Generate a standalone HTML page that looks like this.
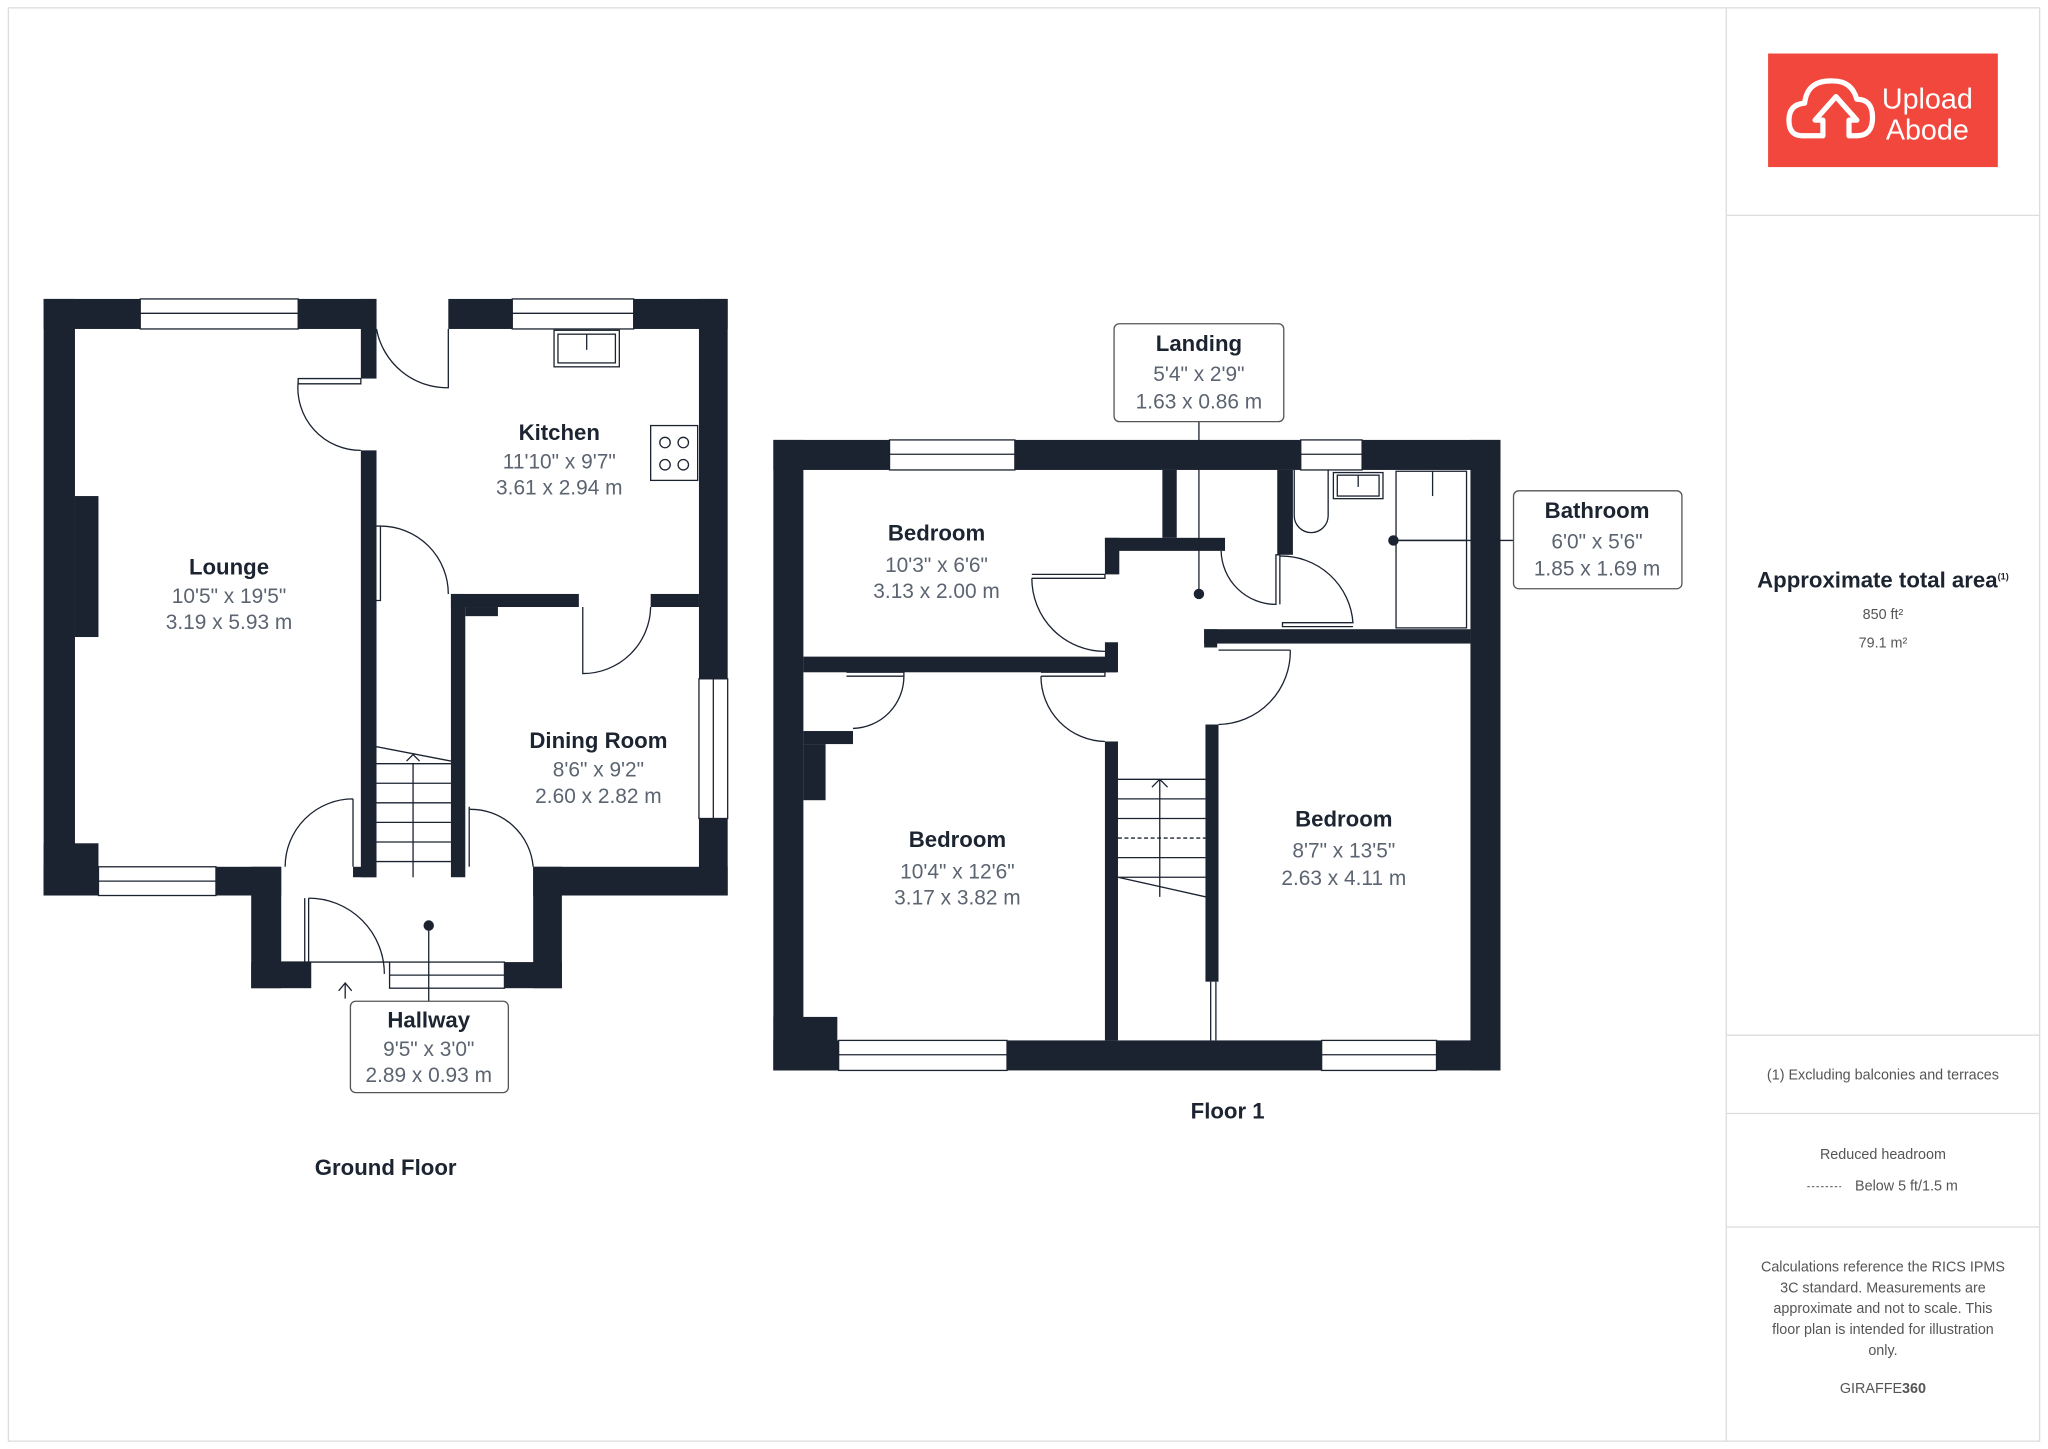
<!DOCTYPE html>
<html><head><meta charset="utf-8"><style>
html,body{margin:0;padding:0;background:#fff;width:2048px;height:1449px;overflow:hidden}
svg{display:block}
text{font-family:"Liberation Sans",sans-serif}
.t{font-weight:bold;fill:#1c2431;font-size:17px;text-anchor:middle}
.d{fill:#5b6470;font-size:16px;text-anchor:middle}
.s{fill:#555;font-size:11px;text-anchor:middle}
.w{fill:#1b2330}
.ln{fill:none;stroke:#1b2330;stroke-width:1}
.win{fill:#fff;stroke:#1b2330;stroke-width:1}
</style></head><body>
<svg width="2048" height="1449" viewBox="0 0 1568 1110" xmlns="http://www.w3.org/2000/svg">
<rect x="6" y="6" width="1556" height="1098" fill="none" stroke="#ddd" stroke-width="1"/>
<line x1="1322" y1="6" x2="1322" y2="1104" stroke="#ddd"/>
<line x1="1322" y1="165" x2="1562" y2="165" stroke="#ddd"/>
<line x1="1322" y1="793" x2="1562" y2="793" stroke="#ddd"/>
<line x1="1322" y1="853" x2="1562" y2="853" stroke="#ddd"/>
<line x1="1322" y1="940" x2="1562" y2="940" stroke="#ddd"/>
<!-- logo -->
<rect x="1354" y="41" width="176" height="87" fill="#f2473c"/>
<path d="M1380 104 q-10 0 -10 -12 q0 -12 12 -13 q2 -18 22 -17 q14 0 18 14 q12 0 12 14 q0 14 -12 14 l-6 0 l0 -12 l6 0 l-16 -18 l-16 18 l6 0 l0 12 z" fill="none" stroke="#fff" stroke-width="4" stroke-linejoin="round"/>
<text x="1476" y="83" fill="#fff" font-size="22" text-anchor="middle">Upload</text>
<text x="1476" y="107" fill="#fff" font-size="22" text-anchor="middle" font-family="Liberation Serif">Abode</text>
<!-- sidebar text -->
<text x="1442" y="450" class="t" font-size="13">Approximate total area<tspan font-size="7" dy="-6">(1)</tspan></text>
<text x="1442" y="474" class="s" font-size="12">850 ft²</text>
<text x="1442" y="496" class="s" font-size="12">79.1 m²</text>
<text x="1442" y="827" class="s">(1) Excluding balconies and terraces</text>
<text x="1442" y="888" class="s">Reduced headroom</text>
<line x1="1384" y1="909" x2="1410" y2="909" stroke="#777" stroke-dasharray="2,1.5"/>
<text x="1460" y="912" class="s">Below 5 ft/1.5 m</text>
<text class="s"><tspan x="1442" y="974">Calculations reference the RICS IPMS</tspan><tspan x="1442" y="990">3C standard. Measurements are</tspan><tspan x="1442" y="1006">approximate and not to scale. This</tspan><tspan x="1442" y="1022">floor plan is intended for illustration</tspan><tspan x="1442" y="1038">only.</tspan></text>
<text x="1442" y="1067" class="s" font-size="12" fill="#222">GIRAFFE<tspan font-weight="bold">360</tspan></text>

<!-- GROUND FLOOR -->
<g class="w">
<rect x="33" y="229" width="255" height="23"/>
<rect x="343" y="229" width="214" height="23"/>
<rect x="535" y="229" width="22" height="457"/>
<rect x="33" y="229" width="24" height="457"/>
<rect x="57" y="380" width="18" height="108"/>
<rect x="33" y="646" width="42" height="40"/>
<rect x="33" y="664" width="182" height="22"/>
<rect x="408" y="664" width="149" height="22"/>
<rect x="276" y="229" width="12" height="61"/>
<rect x="276" y="345" width="12" height="327"/>
<rect x="192" y="664" width="23" height="93"/>
<rect x="192" y="737" width="46" height="20"/>
<rect x="408" y="664" width="22" height="93"/>
<rect x="386" y="737" width="44" height="20"/>
<rect x="345" y="455" width="11" height="217"/>
<rect x="345" y="455" width="98" height="10"/>
<rect x="356" y="465" width="25" height="7"/>
<rect x="498" y="455" width="37" height="10"/>
<rect x="270" y="664" width="18" height="8"/>
</g>
<rect x="107" y="229" width="121" height="23" class="win"/><line x1="107" y1="240" x2="228" y2="240" class="ln"/>
<rect x="392" y="229" width="93" height="23" class="win"/><line x1="392" y1="240" x2="485" y2="240" class="ln"/>
<rect x="75" y="664" width="90" height="22" class="win"/><line x1="75" y1="675" x2="165" y2="675" class="ln"/>
<rect x="535" y="520" width="22" height="107" class="win"/><line x1="546" y1="520" x2="546" y2="627" class="ln"/>
<rect x="298" y="737" width="88" height="20" class="win"/><line x1="298" y1="747" x2="386" y2="747" class="ln"/>
<!-- doors -->
<g class="ln">
<path d="M228 290 L276 290 L276 294 L228 294 Z M228 292 A48 48 0 0 0 276 345"/>
<path d="M288 252 A55 55 0 0 0 343 297 L343 252"/>
<path d="M288 403 L291 403 L291 460 L288 460 M291 403 A52 52 0 0 1 343 455"/>
<path d="M446 465 L446 516 A52 52 0 0 0 498 465"/>
<path d="M270 612 L270 664 M270 612 A52 52 0 0 0 218 664"/>
<path d="M359 618 L359 664 M359 620 A48 48 0 0 1 408 664"/>
<path d="M233 688 L233 750 L236 750 L236 688 M236 688 A58 58 0 0 1 294 746"/>
<path d="M215 737 L298 737"/>
<path d="M264 765 L264 754 M259 759 L264 753 L269 759"/>
<rect x="424" y="253" width="50" height="28"/><rect x="427" y="256" width="44" height="22"/><line x1="449" y1="256" x2="449" y2="268"/>
<rect x="498" y="326" width="36" height="42"/>
<circle cx="509" cy="339" r="4"/><circle cx="523" cy="339" r="4"/><circle cx="509" cy="356" r="4"/><circle cx="523" cy="356" r="4"/>
<!-- stairs -->
<path d="M288 572 L345 583 M288 585 L345 585 M288 600 L345 600 M288 615 L345 615 M288 630 L345 630 M288 645 L345 645 M288 660 L345 660 M316 585 L316 672 M311 583 L316 578 L321 583"/>
<line x1="328" y1="709" x2="328" y2="768"/>
</g>
<circle cx="328" cy="709" r="4" class="w"/>
<rect x="268" y="767" width="121" height="70" rx="4" fill="#fff" stroke="#555"/>
<text x="175" y="440" class="t">Lounge</text><text x="175" y="462" class="d">10'5" x 19'5"</text><text x="175" y="482" class="d">3.19 x 5.93 m</text>
<text x="428" y="337" class="t">Kitchen</text><text x="428" y="359" class="d">11'10" x 9'7"</text><text x="428" y="379" class="d">3.61 x 2.94 m</text>
<text x="458" y="573" class="t">Dining Room</text><text x="458" y="595" class="d">8'6" x 9'2"</text><text x="458" y="615" class="d">2.60 x 2.82 m</text>
<text x="328" y="787" class="t">Hallway</text><text x="328" y="809" class="d">9'5" x 3'0"</text><text x="328" y="829" class="d">2.89 x 0.93 m</text>
<text x="295" y="900" class="t" font-size="12">Ground Floor</text>

<!-- FLOOR 1 -->
<g class="w">
<rect x="592" y="337" width="557" height="23"/>
<rect x="592" y="797" width="557" height="23"/>
<rect x="592" y="337" width="23" height="483"/>
<rect x="1126" y="337" width="23" height="483"/>
<rect x="592" y="779" width="49" height="41"/>
<rect x="615" y="503" width="240" height="12"/>
<rect x="846" y="492" width="10" height="23"/>
<rect x="890" y="360" width="11" height="52"/>
<rect x="846" y="412" width="92" height="10"/>
<rect x="846" y="412" width="11" height="28"/>
<rect x="978" y="360" width="12" height="65"/>
<rect x="922" y="482" width="204" height="11"/>
<rect x="922" y="482" width="10" height="14"/>
<rect x="846" y="568" width="10" height="229"/>
<rect x="923" y="555" width="10" height="197"/>
<rect x="615" y="560" width="38" height="10"/>
<rect x="615" y="570" width="17" height="43"/>
</g>
<rect x="681" y="337" width="96" height="23" class="win"/><line x1="681" y1="348" x2="777" y2="348" class="ln"/>
<rect x="996" y="337" width="47" height="23" class="win"/><line x1="996" y1="348" x2="1043" y2="348" class="ln"/>
<rect x="642" y="797" width="129" height="23" class="win"/><line x1="642" y1="808" x2="771" y2="808" class="ln"/>
<rect x="1012" y="797" width="88" height="23" class="win"/><line x1="1012" y1="808" x2="1100" y2="808" class="ln"/>
<g class="ln">
<path d="M790 440 L846 440 L846 443 L790 443 M790 443 A56 56 0 0 0 846 499"/>
<path d="M797 515 L846 515 L846 518 L797 518 M797 518 A50 50 0 0 0 846 568"/>
<path d="M648 515 L692 515 L692 518 L648 518 M692 518 A40 40 0 0 1 653 558"/>
<path d="M933 498 L988 498 M988 498 A56 56 0 0 1 933 555"/>
<path d="M935 422 A42 42 0 0 0 977 463 L977 425 L980 425 L980 463"/>
<path d="M980 426 A55 55 0 0 1 1036 477 L982 477 L982 480 L1036 480"/>
<path d="M991 360 L991 395 A13 13 0 0 0 1017 395 L1017 360"/>
<rect x="1021" y="362" width="38" height="20"/><rect x="1024" y="364" width="32" height="16"/><line x1="1040" y1="364" x2="1040" y2="373"/>
<rect x="1069" y="361" width="54" height="120"/><line x1="1069" y1="414" x2="1123" y2="414"/><line x1="1097" y1="361" x2="1097" y2="380"/>
<path d="M856 597 L923 597 M856 612 L923 612 M856 627 L923 627 M856 657 L923 657 M856 672 L923 672 M856 672 L923 687 M888 597 L888 687 M882 603 L888 597 L894 603"/>
<line x1="856" y1="642" x2="923" y2="642" stroke-dasharray="3,2"/>
<path d="M927 752 L927 797 M931 752 L931 797"/>
<line x1="918" y1="323" x2="918" y2="455"/>
<line x1="1067" y1="414" x2="1159" y2="414"/>
</g>
<circle cx="918" cy="455" r="4" class="w"/><circle cx="1067" cy="414" r="4" class="w"/>
<rect x="853" y="248" width="130" height="75" rx="4" fill="#fff" stroke="#555"/>
<rect x="1159" y="376" width="129" height="75" rx="4" fill="#fff" stroke="#555"/>
<text x="918" y="269" class="t">Landing</text><text x="918" y="292" class="d">5'4" x 2'9"</text><text x="918" y="313" class="d">1.63 x 0.86 m</text>
<text x="1223" y="397" class="t">Bathroom</text><text x="1223" y="420" class="d">6'0" x 5'6"</text><text x="1223" y="441" class="d">1.85 x 1.69 m</text>
<text x="717" y="414" class="t">Bedroom</text><text x="717" y="438" class="d">10'3" x 6'6"</text><text x="717" y="458" class="d">3.13 x 2.00 m</text>
<text x="733" y="649" class="t">Bedroom</text><text x="733" y="673" class="d">10'4" x 12'6"</text><text x="733" y="693" class="d">3.17 x 3.82 m</text>
<text x="1029" y="633" class="t">Bedroom</text><text x="1029" y="657" class="d">8'7" x 13'5"</text><text x="1029" y="678" class="d">2.63 x 4.11 m</text>
<text x="940" y="857" class="t" font-size="12">Floor 1</text>
</svg>
</body></html>
